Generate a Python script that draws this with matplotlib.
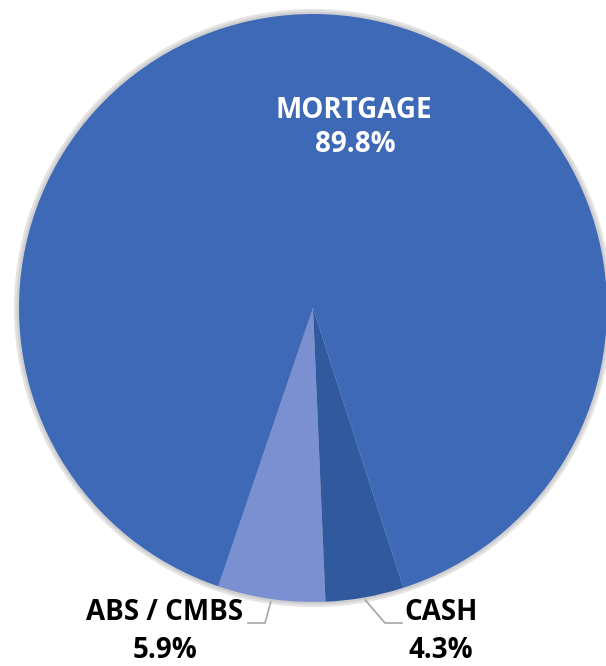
import matplotlib
matplotlib.use('Agg')
import matplotlib.pyplot as plt
import numpy as np
from matplotlib.patches import Circle

plt.rcParams['font.family'] = ['Open Sans', 'DejaVu Sans']

# portfolio breakdown, percent
labels = ['ABS / CMBS', 'CASH', 'MORTGAGE']
shares = [5.9, 4.3, 89.8]
colors = ['#7A90D0', '#30599E', '#3E69B6']

W, H = 606, 666
fig = plt.figure(figsize=(W / 100, H / 100), dpi=100)
ax = fig.add_axes([0, 0, 1, 1])

cx, cy, r = 313, H - 308, 294

# soft grey rim behind the pie
ax.add_patch(Circle((cx, cy), r + 5, facecolor='#E3E3E3', edgecolor='none', zorder=0))
ax.add_patch(Circle((cx, cy), r + 2.5, facecolor='#CFCFCF', edgecolor='none', zorder=0))

wedges, _ = ax.pie(shares, colors=colors, startangle=251.2, counterclock=True,
                   center=(cx, cy), radius=r,
                   wedgeprops=dict(linewidth=0, edgecolor='none'))
for w in wedges:
    w.set_zorder(1)

ax.set_xlim(0, W)
ax.set_ylim(0, H)
ax.set_aspect('equal')
ax.axis('off')

fs = 20

# inside label for the big slice
ax.text(354, H - 110, labels[2].upper(), color='white', fontsize=fs, fontweight='bold',
        ha='center', va='center')
ax.text(355, H - 144, '{:.1f}%'.format(shares[2]), color='white', fontsize=fs,
        fontweight='bold', ha='center', va='center')

# outside labels with elbow leaders
outside = {0: dict(elbow=(265, 623), end=(248, 623), txt=(165, 613)),
           1: dict(elbow=(385, 623), end=(402, 623), txt=(441, 613))}
for i, o in outside.items():
    w = wedges[i]
    mid = np.deg2rad((w.theta1 + w.theta2) / 2)
    x0 = cx + (r + 3) * np.cos(mid)
    y0 = cy + (r + 3) * np.sin(mid)
    ex, ey = o['elbow'][0], H - o['elbow'][1]
    fx, fy = o['end'][0], H - o['end'][1]
    ax.plot([x0, ex, fx], [y0, ey, fy], color='#A6A6A6', lw=1.2, zorder=2,
            clip_on=False)
    ax.text(o['txt'][0], H - o['txt'][1], labels[i], color='black', fontsize=fs,
            fontweight='bold', ha='center', va='center')
    ax.text(o['txt'][0], H - 651, '{:.1f}%'.format(shares[i]), color='black',
            fontsize=fs, fontweight='bold', ha='center', va='center')

fig.savefig('out.png', dpi=100, facecolor='white')
